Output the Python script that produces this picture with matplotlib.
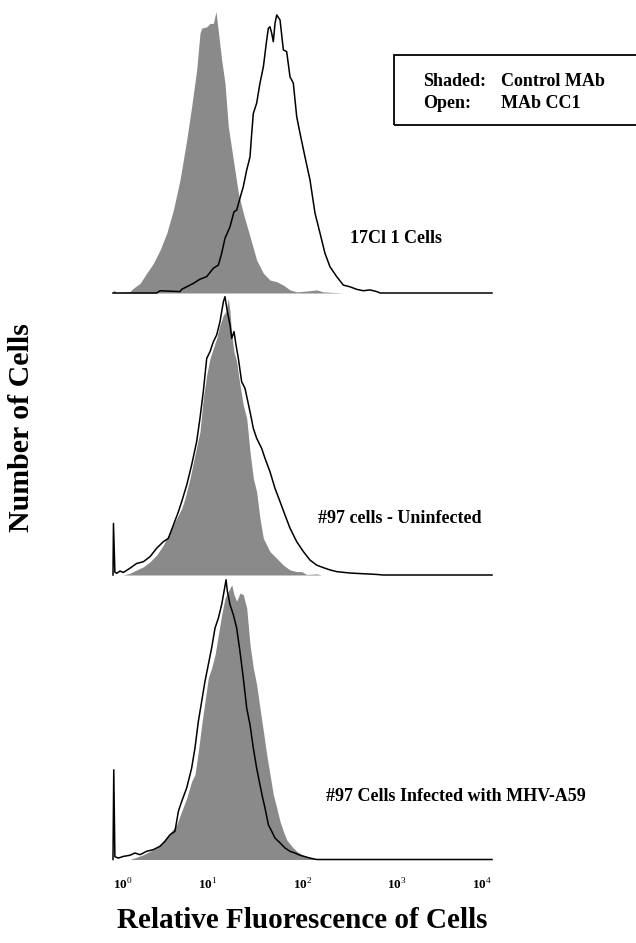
import numpy as np
import matplotlib.pyplot as plt
from matplotlib.patches import Rectangle
from matplotlib.transforms import blended_transform_factory

plt.rcParams['font.family'] = ['Liberation Serif', 'DejaVu Serif']
plt.rcParams['mathtext.fontset'] = 'custom'
plt.rcParams['mathtext.rm'] = 'Liberation Serif'
plt.rcParams['mathtext.bf'] = 'Liberation Serif:bold'

# x values are log10 of relative fluorescence, y values are cell counts
# as percent of the panel height

# panel 1: 17Cl 1 cells
p1_ctrl_x = [0.0, 0.004, 0.039, 0.179, 0.215, 0.285, 0.355, 0.426, 0.496, 0.567,
             0.637, 0.707, 0.778, 0.830, 0.883, 0.918, 0.936, 0.989, 1.024, 1.059,
             1.087, 1.112, 1.147, 1.182, 1.217, 1.270, 1.323, 1.375, 1.446, 1.516,
             1.587, 1.657, 1.728, 1.798, 1.868, 1.939, 2.079, 2.150, 2.220, 2.431]
p1_ctrl_y = [0, 1.1, 0.1, 0.5, 1.7, 3.4, 7.0, 10.5, 15.2, 21.2,
             29.4, 40.1, 54.3, 66.1, 79.1, 92.1, 93.9, 94.4, 95.6, 95.6,
             99.8, 92.7, 82.6, 74.4, 59.0, 47.2, 35.4, 28.3, 20.0, 11.7,
             7.0, 4.6, 4.0, 2.8, 1.1, 0.4, 0.8, 1.1, 0.4, 0]
p1_cc1_x = [0.0, 0.461, 0.496, 0.707, 0.725, 0.778, 0.848, 0.918, 0.989, 1.059,
            1.112, 1.147, 1.182, 1.235, 1.277, 1.305, 1.340, 1.375, 1.411, 1.446,
            1.464, 1.481, 1.516, 1.551, 1.587, 1.622, 1.640, 1.657, 1.675, 1.692,
            1.710, 1.728, 1.763, 1.798, 1.833, 1.868, 1.903, 1.939, 1.974, 2.026,
            2.079, 2.132, 2.185, 2.237, 2.290, 2.361, 2.431, 2.501, 2.572, 2.642,
            2.712, 2.783, 2.820, 4.0]
p1_cc1_y = [0, 0, 0.8, 0.5, 1.3, 2.2, 3.4, 4.9, 5.8, 8.8,
            9.9, 14.1, 19.4, 23.5, 28.8, 29.4, 33.6, 37.7, 43.6, 48.3,
            56.6, 63.7, 67.3, 74.4, 80.2, 89.7, 93.9, 94.4, 92.1, 89.1,
            95.6, 98.6, 96.8, 86.2, 85.6, 76.7, 74.4, 62.5, 56.6, 48.3,
            40.1, 28.3, 21.2, 14.1, 9.3, 5.8, 2.8, 2.2, 1.3, 0.8,
            1.1, 0.5, 0, 0]

# panel 2: #97 cells, uninfected
p2_ctrl_x = [0.109, 0.179, 0.250, 0.320, 0.391, 0.461, 0.531, 0.602, 0.672, 0.725,
             0.760, 0.813, 0.865, 0.918, 0.953, 0.989, 1.024, 1.059, 1.094, 1.129,
             1.165, 1.193, 1.217, 1.235, 1.253, 1.277, 1.305, 1.340, 1.375, 1.411,
             1.446, 1.481, 1.516, 1.551, 1.587, 1.622, 1.657, 1.728, 1.798, 1.868,
             1.939, 1.991, 2.044, 2.150, 2.200]
p2_ctrl_y = [0, 0.6, 1.8, 2.9, 4.7, 7.1, 10.6, 15.4, 20.1, 23.6,
             27.2, 34.3, 42.6, 50.8, 62.7, 70.9, 76.8, 80.4, 83.9, 88.7,
             92.2, 93.4, 98.1, 93.4, 85.1, 79.2, 75.6, 67.4, 60.3, 55.6,
             43.7, 34.3, 29.5, 20.1, 13.0, 10.6, 8.3, 5.9, 3.5, 1.8,
             1.2, 1.2, 0.2, 0.4, 0]
p2_cc1_x = [0.0, 0.005, 0.02, 0.039, 0.074, 0.109, 0.179, 0.250, 0.320, 0.391,
            0.461, 0.531, 0.584, 0.637, 0.690, 0.725, 0.778, 0.830, 0.883, 0.918,
            0.953, 0.989, 1.024, 1.059, 1.094, 1.129, 1.165, 1.182, 1.207, 1.235,
            1.253, 1.277, 1.298, 1.323, 1.358, 1.393, 1.446, 1.481, 1.516, 1.569,
            1.604, 1.657, 1.710, 1.763, 1.815, 1.868, 1.939, 2.009, 2.079, 2.150,
            2.220, 2.290, 2.361, 2.501, 2.783, 2.850, 4.0]
p2_cc1_y = [0, 18.3, 1.0, 0.6, 1.4, 0.9, 2.4, 4.1, 4.7, 6.5,
            9.5, 11.8, 13.0, 17.7, 22.4, 26.0, 31.9, 39.0, 47.3, 55.6,
            65.0, 76.8, 79.2, 82.7, 85.1, 89.8, 96.9, 98.7, 93.4, 88.7,
            83.9, 86.3, 81.6, 76.8, 68.5, 66.2, 57.9, 52.0, 48.5, 44.9,
            41.4, 36.6, 30.7, 26.0, 21.3, 16.6, 11.8, 8.3, 5.3, 3.5,
            2.6, 1.8, 1.2, 0.7, 0.2, 0, 0]

# panel 3: #97 cells infected with MHV-A59
p3_ctrl_x = [0.179, 0.250, 0.320, 0.391, 0.461, 0.531, 0.602, 0.672, 0.725, 0.778,
             0.830, 0.865, 0.901, 0.936, 0.971, 1.006, 1.041, 1.077, 1.112, 1.147,
             1.182, 1.217, 1.253, 1.277, 1.305, 1.340, 1.375, 1.411, 1.446, 1.481,
             1.516, 1.551, 1.587, 1.622, 1.657, 1.692, 1.728, 1.763, 1.798, 1.833,
             1.886, 1.939, 1.991, 2.044, 2.114, 2.185]
p3_ctrl_y = [0, 0.8, 1.7, 2.9, 4.1, 6.5, 9.4, 12.3, 17.1, 21.8,
             27.7, 30.1, 38.4, 47.8, 56.1, 64.4, 67.9, 72.6, 79.7, 86.8,
             92.7, 95.1, 97.4, 93.9, 91.6, 94.5, 93.9, 89.2, 76.2, 67.9,
             62.0, 53.7, 45.5, 37.2, 30.1, 23.0, 18.3, 13.5, 10.0, 7.0,
             4.7, 2.9, 1.8, 1.1, 0.5, 0]
p3_cc1_x = [0.0, 0.008, 0.02, 0.056, 0.109, 0.179, 0.232, 0.285, 0.355, 0.426,
            0.496, 0.549, 0.602, 0.654, 0.690, 0.725, 0.778, 0.830, 0.865, 0.901,
            0.936, 0.971, 1.006, 1.041, 1.077, 1.112, 1.147, 1.172, 1.193, 1.207,
            1.235, 1.270, 1.305, 1.340, 1.375, 1.411, 1.446, 1.481, 1.516, 1.551,
            1.580, 1.604, 1.640, 1.675, 1.710, 1.763, 1.815, 1.868, 1.921, 1.974,
            2.026, 2.079, 2.150, 4.0]
p3_cc1_y = [0, 31.8, 1.0, 0.5, 1.1, 1.5, 2.3, 1.7, 2.9, 3.5,
            4.7, 6.5, 8.8, 10.0, 17.1, 20.6, 25.4, 32.4, 39.5, 49.0,
            56.1, 63.2, 69.1, 75.0, 82.1, 85.6, 90.4, 95.1, 99.2, 95.1,
            90.4, 86.8, 82.1, 73.8, 64.4, 53.7, 47.8, 39.5, 32.4, 26.5,
            21.8, 18.3, 12.3, 10.0, 7.6, 5.9, 4.1, 2.9, 2.3, 1.5,
            1.0, 0.5, 0, 0]

panel_titles = ['17Cl 1 Cells', '#97 cells - Uninfected', '#97 Cells Infected with MHV-A59']
decades = [0, 1, 2, 3, 4]
tick_labels = [r'$\mathbf{10}^{%d}$' % d for d in decades]

W, H = 636, 943
fig = plt.figure(figsize=(W / 100, H / 100), dpi=100)

shade = '#8a8a8a'
baselines = [293, 575, 859.5]
panel_h = 282
title_pos = [(2.50, 19.5), (2.16, 20.2), (2.25, 22.2)]

panels = [(p1_ctrl_x, p1_ctrl_y, p1_cc1_x, p1_cc1_y),
          (p2_ctrl_x, p2_ctrl_y, p2_cc1_x, p2_cc1_y),
          (p3_ctrl_x, p3_ctrl_y, p3_cc1_x, p3_cc1_y)]

axes = []
for i, (cx, cy, ox, oy) in enumerate(panels):
    ax = fig.add_axes([113 / W, 1 - baselines[i] / H, 379 / W, panel_h / H])
    ax.patch.set_alpha(0)
    ax.fill_between(10 ** np.array(cx), cy, 0, color=shade, lw=0, zorder=1)
    ax.plot(10 ** np.array(ox), oy, color='black', lw=1.1, zorder=3, clip_on=False)
    ax.set_xscale('log')
    ax.set_xlim(1, 1e4)
    ax.set_ylim(0, 100)
    for s in ax.spines.values():
        s.set_visible(False)
    ax.set_xticks([])
    ax.set_yticks([])
    ax.minorticks_off()
    tx, ty = title_pos[i]
    ax.text(10 ** tx, ty, panel_titles[i], fontsize=13, fontweight='bold',
            ha='left', va='center')
    axes.append(ax)

# decade labels under the bottom panel
ax = axes[-1]
trans = blended_transform_factory(ax.transData, ax.transAxes)
for j, d in enumerate(decades):
    ha = 'left' if j == 0 else ('right' if j == len(decades) - 1 else 'center')
    ax.text(10 ** d, -0.09, tick_labels[j], transform=trans, fontsize=9.5,
            ha=ha, va='center')

fig.text(22 / W, 1 - 428 / H, 'Number of Cells', rotation=90, fontsize=21.5,
         fontweight='bold', ha='center', va='center')
fig.text(302 / W, 1 - 920 / H, 'Relative Fluorescence of Cells', fontsize=21,
         fontweight='bold', ha='center', va='center')

# key box
fig.patches.append(Rectangle((394 / W, 1 - 125 / H), 260 / W, 70 / H,
                             transform=fig.transFigure, fill=False,
                             lw=1.3, edgecolor='black'))
fig.text(423 / W, 1 - 82 / H, 'Shaded:', fontsize=13, fontweight='bold', va='center')
fig.text(501 / W, 1 - 82 / H, 'Control MAb', fontsize=13, fontweight='bold', va='center')
fig.text(423 / W, 1 - 103 / H, 'Open:', fontsize=13, fontweight='bold', va='center')
fig.text(501 / W, 1 - 103 / H, 'MAb CC1', fontsize=13, fontweight='bold', va='center')

fig.savefig('out.png', dpi=100)
